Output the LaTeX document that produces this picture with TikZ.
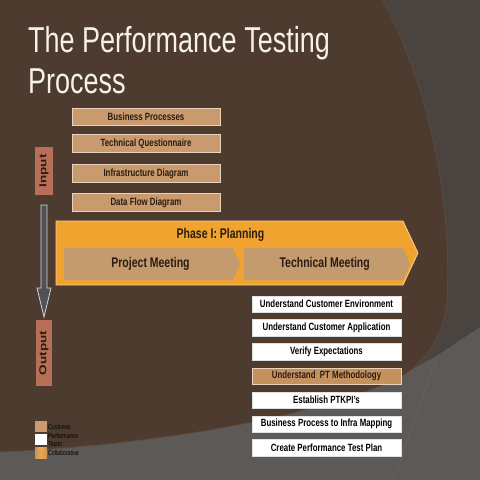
\documentclass[tikz,border=0pt]{standalone}
\usepackage{fontspec}
\setmainfont{Liberation Sans}[FakeStretch=0.75]
\newfontfamily\labelfont{Liberation Sans}
\usetikzlibrary{calc}
\definecolor{bgbrown}{HTML}{4D3B2F}
\definecolor{bgedge}{HTML}{5E4A3C}
\definecolor{bgright}{HTML}{4A4440}
\definecolor{bglow}{HTML}{5D5956}
\definecolor{tanbox}{HTML}{C99A6E}
\definecolor{tanedge}{HTML}{EAD3BC}
\definecolor{methtan}{HTML}{C4915F}
\definecolor{labelred}{HTML}{B86F58}
\definecolor{phaseorange}{HTML}{F0A32F}
\definecolor{phaseedge}{HTML}{F8D08E}
\definecolor{chevtan}{HTML}{C39B6E}
\definecolor{darktext}{HTML}{2A1C12}
\definecolor{arrowgray}{HTML}{4F5257}
\definecolor{arrowedge}{HTML}{D5D5D5}
\definecolor{titlewhite}{HTML}{F6F1EB}
\definecolor{collabA}{HTML}{C8935E}
\definecolor{collabB}{HTML}{E9A64C}
\tikzset{
  inbox/.style={draw=tanedge, line width=0.7pt, fill=tanbox, minimum width=148pt, minimum height=17.5pt,
    inner sep=0pt, text=darktext, font=\fontsize{10.5}{12}\selectfont\bfseries},
  outbox/.style={draw=black!12, line width=0.5pt, fill=white, minimum width=149pt, minimum height=16.5pt,
    inner sep=0pt, text=black, font=\fontsize{10.5}{12}\selectfont\bfseries},
  sidelabel/.style={fill=labelred, inner sep=0pt, rotate=90, text=darktext,
    font=\labelfont\fontsize{13.5}{15}\selectfont\bfseries},
  titletext/.style={anchor=base west, inner sep=0pt, text=titlewhite, font=\fontsize{36}{40}\selectfont},
  chevtext/.style={inner sep=0pt, text=darktext, font=\fontsize{14}{16}\selectfont\bfseries},
  legendbox/.style={minimum width=12pt, minimum height=11pt, inner sep=0pt},
  legendtext/.style={anchor=west, inner sep=0pt, text=black, font=\fontsize{7}{8}\selectfont}
}
\begin{document}
\begin{tikzpicture}[x=1pt,y=-1pt]
\useasboundingbox (0,0) rectangle (480,480);
% background
\fill[bgright] (0,0) rectangle (480,480);
\fill[bglow] (0,480) -- (0,452) -- (390,382) -- (438,355) -- (480,327) -- (480,480) -- cycle;
\fill[bgbrown] (0,0) -- (383,0) .. controls (430,90) and (452,200) .. (447,300)
   .. controls (444,340) and (420,370) .. (390,382)
   .. controls (300,420) and (150,445) .. (0,452) -- cycle;
\draw[bgedge, line width=0.8pt] (383,0) .. controls (430,90) and (452,200) .. (447,300)
   .. controls (444,340) and (420,370) .. (390,382)
   .. controls (300,420) and (150,445) .. (0,452);
\draw[bglow!80!white, line width=0.4pt, opacity=0.5] (438,355) -- (393,480);

% title
\node[titletext] (title1) at (28,52) {The Performance Testing};
\node[titletext] (title2) at (28,93) {Process};

% input boxes
\node[inbox] (bp) at (146,117) {Business Processes};
\node[inbox] (tq) at (146,143.5) {Technical Questionnaire};
\node[inbox] (idg) at (146,173.5) {Infrastructure Diagram};
\node[inbox] (dfd) at (146,202.5) {Data Flow Diagram};

% side labels
\node[sidelabel, minimum width=48pt, minimum height=18pt] (inlabel) at (44,171)
  {\scalebox{1}[0.75]{Input}};
\node[sidelabel, minimum width=66pt, minimum height=16pt] (outlabel) at (44,353)
  {\scalebox{1}[0.75]{Output}};

% block arrow from input to output
\draw[fill=arrowgray, draw=arrowedge, line width=0.8pt]
  (41,205) -- (47,205) -- (47,288) -- (51,288) -- (44,317) -- (37,288) -- (41,288) -- cycle;

% phase banner
\draw[fill=phaseorange, draw=phaseedge, line width=0.8pt]
  (56,221) -- (403,221) -- (418,253) -- (403,285) -- (56,285) -- cycle;
\fill[chevtan] (64,248) -- (233,248) -- (240,264) -- (233,280) -- (64,280) -- cycle;
\fill[chevtan] (244,248) -- (403,248) -- (410,264) -- (403,280) -- (244,280) -- cycle;
\node[chevtext] (phase) at (220.5,235) {Phase I: Planning};
\node[chevtext] (pm) at (150.5,264) {Project Meeting};
\node[chevtext] (tm) at (324.7,264) {Technical Meeting};

% output boxes
\node[outbox] (o1) at (326.5,304) {Understand Customer Environment};
\node[outbox] (o2) at (326.5,327.5) {Understand Customer Application};
\node[outbox] (o3) at (326.5,351.5) {Verify Expectations};
\node[outbox, fill=methtan, draw=tanedge, text=darktext] (o4) at (326.5,376) {Understand\ \ PT Methodology};
\node[outbox] (o5) at (326.5,400) {Establish PTKPI's};
\node[outbox] (o6) at (326.5,424) {Business Process to Infra Mapping};
\node[outbox] (o7) at (326.5,447.5) {Create Performance Test Plan};

% legend
\node[legendbox, fill=tanbox] (lg1) at (41,426.5) {};
\node[legendbox, fill=white] (lg2) at (41,439) {};
\node[legendbox, left color=collabA, right color=collabA, middle color=collabB] (lg3) at (41,452.5) {};
\node[legendtext] (lt1) at (48,427) {Customer};
\node[legendtext] (lt2) at (48,436) {Performance};
\node[legendtext] (lt3) at (48,444) {Tester};
\node[legendtext] (lt4) at (48,453) {Collaborative};
\end{tikzpicture}
\end{document}
